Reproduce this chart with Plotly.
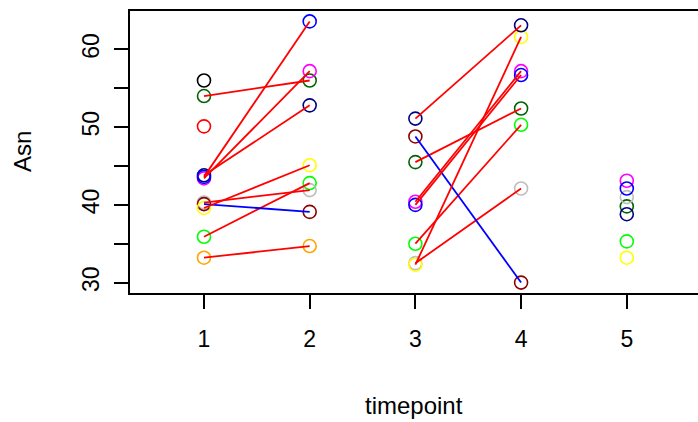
import plotly.graph_objects as go

timepoints = [1, 2, 3, 4, 5]
subject_colors = ["black", "#006400", "red", "#FFA500", "#00FF00", "#BEBEBE",
                  "#8B0000", "yellow", "magenta", "#000080", "blue"]
# Asn values per subject (colour) at timepoints 1..5 (None = missing)
asn_black   = [56.0, None, None, None, None]
asn_dkgreen = [54.0, 56.0, 45.5, 52.4, 39.8]
asn_red     = [50.1, None, None, None, None]
asn_orange  = [33.2, 34.7, None, None, None]
asn_green   = [35.9, 42.8, 35.0, 50.3, 35.3]
asn_gray    = [40.3, 41.9, 32.5, 42.1, 41.0]
asn_dkred   = [40.1, 39.1, 48.8, 30.0, None]
asn_yellow  = [39.6, 45.1, 32.3, 61.6, 33.2]
asn_magenta = [43.4, 57.2, 40.4, 57.2, 43.1]
asn_navy    = [43.8, 52.8, 51.1, 63.1, 38.8]
asn_blue    = [43.6, 63.6, 40.0, 56.7, 42.1]

series = [asn_black, asn_dkgreen, asn_red, asn_orange, asn_green, asn_gray,
          asn_dkred, asn_yellow, asn_magenta, asn_navy, asn_blue]
pairs = [(0, 1), (2, 3)]

fig = go.Figure()
for col, vals in zip(subject_colors, series):
    xs = [t for t, v in zip(timepoints, vals) if v is not None]
    ys = [v for v in vals if v is not None]
    fig.add_trace(go.Scatter(x=xs, y=ys, mode="markers",
                             marker=dict(symbol="circle-open", size=13, color=col,
                                         line=dict(width=1.6, color=col)),
                             showlegend=False, hoverinfo="skip"))

for vals in series:
    for a, b in pairs:
        if vals[a] is not None and vals[b] is not None:
            lc = "red" if vals[b] > vals[a] else "blue"
            fig.add_trace(go.Scatter(x=[timepoints[a], timepoints[b]], y=[vals[a], vals[b]],
                                     mode="lines", line=dict(color=lc, width=1.8),
                                     showlegend=False, hoverinfo="skip"))

font = dict(family="Liberation Sans, Arial, sans-serif", size=23, color="black")
title_font = dict(family="Liberation Sans, Arial, sans-serif", size=24, color="black")
fig.update_layout(
    width=698, height=422,
    margin=dict(l=130, r=0, t=11, b=129),
    plot_bgcolor="white", paper_bgcolor="white",
    font=font,
    xaxis=dict(range=[0.3, 0.3 + 568 / 105.7], tickvals=timepoints,
               ticks="outside", ticklen=14, tickwidth=1.5, tickcolor="black",
               showline=True, linecolor="black", linewidth=1.5, mirror=True,
               showgrid=False, zeroline=False, ticklabelstandoff=11),
    yaxis=dict(range=[28.66, 64.94], tickvals=[30, 35, 40, 45, 50, 55, 60],
               ticktext=["30", "", "40", "", "50", "", "60"],
               ticks="outside", ticklen=14, tickwidth=1.5, tickcolor="black",
               showline=True, linecolor="black", linewidth=1.5,
               showgrid=False, zeroline=False, tickangle=-90, ticklabelstandoff=6),
    annotations=[
        dict(text="timepoint", xref="paper", yref="paper", x=0.5, y=0,
             xanchor="center", yanchor="middle", yshift=-112, showarrow=False, font=title_font),
        dict(text="Asn", xref="paper", yref="paper", x=0, y=0.5, textangle=-90,
             xanchor="center", yanchor="middle", xshift=-108, showarrow=False, font=title_font),
    ],
)
fig.write_html("out.html", config={"displayModeBar": False},
               post_script="document.body.style.margin='0';"
                           "document.documentElement.style.overflow='hidden';"
                           "document.body.style.overflow='hidden';")
